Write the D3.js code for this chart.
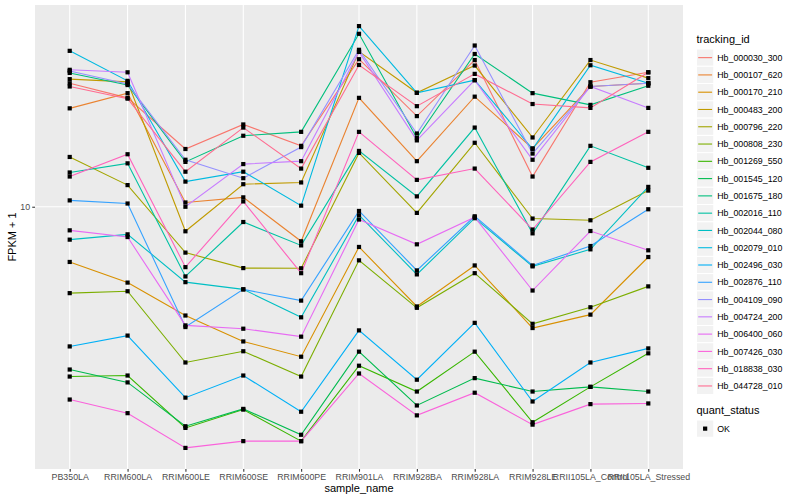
<!DOCTYPE html>
<html><head><meta charset="utf-8">
<script src="https://cdn.jsdelivr.net/npm/d3@7"></script>
<style>
body{margin:0;background:#fff}
text{font-family:"Liberation Sans",Arial,Helvetica,sans-serif}
</style>
</head><body>
<svg id="chart" width="800" height="500"></svg>
<script>
// ---- data ----
const samples = ["PB350LA","RRIM600LA","RRIM600LE","RRIM600SE","RRIM600PE","RRIM901LA","RRIM928BA","RRIM928LA","RRIM928LE","RRII105LA_Control","RRII105LA_Stressed"];
const trackingIds = ["Hb_000030_300","Hb_000107_620","Hb_000170_210","Hb_000483_200","Hb_000796_220","Hb_000808_230","Hb_001269_550","Hb_001545_120","Hb_001675_180","Hb_002016_110","Hb_002044_080","Hb_002079_010","Hb_002496_030","Hb_002876_110","Hb_004109_090","Hb_004724_200","Hb_006400_060","Hb_007426_030","Hb_018838_030","Hb_044728_010"];
const seriesColors = ["#F8766D","#EA8331","#D89000","#C09B00","#A3A500","#7CAE00","#39B600","#00BB4E","#00BF7D","#00C1A3","#00BFC4","#00BAE0","#00B0F6","#35A2FF","#9590FF","#C77CFF","#E76BF3","#FA62DB","#FF62BC","#FF6C91"];

// FPKM + 1 per sample, one array per tracking_id
const Hb_000030_300 = [31.1, 27.2, 17.0, 21.3, 17.5, 38.8, 23.0, 38.5, 13.2, 31.4, 34.4];
const Hb_000107_620 = [24.7, 28.4, 10.4, 10.9, 7.28, 27.2, 15.2, 27.5, 17.1, 30.2, 31.1];
const Hb_000170_210 = [6.02, 4.98, 3.68, 2.90, 2.52, 6.91, 4.00, 5.83, 3.28, 3.71, 6.30];
const Hb_000483_200 = [32.3, 31.5, 7.98, 12.3, 12.5, 41.6, 28.5, 36.6, 18.9, 38.5, 32.6];
const Hb_000796_220 = [15.8, 12.2, 6.56, 5.69, 5.68, 16.4, 9.45, 18.0, 8.97, 8.83, 11.6];
const Hb_000808_230 = [4.52, 4.60, 2.39, 2.65, 2.10, 6.11, 3.95, 5.43, 3.41, 3.97, 4.81];
const Hb_001269_550 = [2.10, 2.12, 1.31, 1.55, 1.16, 2.32, 1.83, 2.64, 1.38, 1.91, 2.60];
const Hb_001545_120 = [2.24, 1.99, 1.33, 1.56, 1.23, 2.64, 1.61, 2.07, 1.83, 1.91, 1.83];
const Hb_001675_180 = [34.2, 30.6, 15.1, 19.2, 19.9, 49.0, 18.8, 40.7, 28.4, 25.5, 30.4];
const Hb_002016_110 = [13.7, 14.9, 5.27, 8.69, 7.01, 16.7, 11.0, 20.7, 7.83, 17.5, 14.3];
const Hb_002044_080 = [7.39, 7.76, 5.00, 4.68, 3.62, 9.25, 5.37, 9.00, 5.78, 6.76, 12.0];
const Hb_002079_010 = [41.9, 31.8, 12.6, 13.8, 10.1, 52.6, 28.5, 32.0, 17.0, 36.7, 31.1];
const Hb_002496_030 = [2.77, 3.06, 1.73, 2.12, 1.52, 3.21, 2.04, 3.44, 1.67, 2.39, 2.72];
const Hb_002876_110 = [10.6, 10.3, 3.31, 4.68, 4.22, 9.62, 5.57, 9.16, 5.83, 6.97, 9.77];
const Hb_004109_090 = [34.8, 30.9, 15.4, 13.0, 17.3, 42.3, 19.6, 44.0, 16.3, 30.2, 31.1];
const Hb_004724_200 = [35.2, 34.4, 10.0, 14.8, 15.2, 41.5, 18.4, 32.0, 15.4, 30.2, 24.8];
const Hb_006400_060 = [8.05, 7.57, 3.36, 3.26, 3.03, 8.89, 7.08, 9.08, 4.63, 8.00, 6.70];
const Hb_007426_030 = [1.70, 1.50, 1.09, 1.16, 1.16, 2.16, 1.47, 1.81, 1.35, 1.63, 1.64];
const Hb_018838_030 = [13.2, 16.2, 5.74, 10.5, 5.43, 19.9, 12.8, 14.2, 8.11, 15.1, 19.9];
const Hb_044728_010 = [30.2, 27.0, 13.8, 20.7, 14.2, 36.8, 25.2, 33.9, 25.7, 24.8, 34.4];

const seriesValues = [Hb_000030_300, Hb_000107_620, Hb_000170_210, Hb_000483_200, Hb_000796_220, Hb_000808_230, Hb_001269_550, Hb_001545_120, Hb_001675_180, Hb_002016_110, Hb_002044_080, Hb_002079_010, Hb_002496_030, Hb_002876_110, Hb_004109_090, Hb_004724_200, Hb_006400_060, Hb_007426_030, Hb_018838_030, Hb_044728_010];
const yTicks = [10];
const quantStatus = ["OK"];

// ---- layout ----
const svg = d3.select("#chart");
const panel = {left: 35, right: 683, top: 5, bottom: 469};
const FONT_TICK = "8.8px", FONT_TITLE = "11px";

const x = d3.scalePoint().domain(samples).range([panel.left, panel.right]).padding(0.6);
const allVals = seriesValues.flat();
const lmin = Math.log10(d3.min(allVals)), lmax = Math.log10(d3.max(allVals));
const ex = (lmax - lmin) * 0.05;
const y = d3.scaleLog().domain([Math.pow(10, lmin - ex), Math.pow(10, lmax + ex)]).range([panel.bottom, panel.top]);

// panel background
svg.append("rect").attr("x", panel.left).attr("y", panel.top)
  .attr("width", panel.right - panel.left).attr("height", panel.bottom - panel.top)
  .attr("fill", "#EBEBEB");

// grid
const grid = svg.append("g");
grid.selectAll(".vg").data(samples).enter().append("line")
  .attr("x1", d => x(d)).attr("x2", d => x(d))
  .attr("y1", panel.top).attr("y2", panel.bottom)
  .attr("stroke", "#fff").attr("stroke-width", 1.07);
grid.selectAll(".hg").data(yTicks).enter().append("line")
  .attr("x1", panel.left).attr("x2", panel.right)
  .attr("y1", d => y(d)).attr("y2", d => y(d))
  .attr("stroke", "#fff").attr("stroke-width", 1.07);

// lines
const line = d3.line().x((d, i) => x(samples[i])).y(d => y(d));
svg.append("g").selectAll("path").data(seriesValues).enter().append("path")
  .attr("d", d => line(d)).attr("fill", "none")
  .attr("stroke", (d, i) => seriesColors[i]).attr("stroke-width", 1.1);

// points
const pts = [];
seriesValues.forEach(s => s.forEach((v, i) => pts.push({s: samples[i], v})));
svg.append("g").selectAll("rect").data(pts).enter().append("rect")
  .attr("x", d => x(d.s) - 2.1).attr("y", d => y(d.v) - 2.1)
  .attr("width", 4.2).attr("height", 4.2).attr("fill", "#000");

// axes
const xAxis = svg.append("g").attr("transform", `translate(0,${panel.bottom})`)
  .call(d3.axisBottom(x).tickSize(2.75).tickPadding(2.2));
const yAxis = svg.append("g").attr("transform", `translate(${panel.left},0)`)
  .call(d3.axisLeft(y).tickValues(yTicks).tickFormat(d3.format("d")).tickSize(2.75).tickPadding(2.2));
[xAxis, yAxis].forEach(a => {
  a.select(".domain").remove();
  a.selectAll(".tick line").attr("stroke", "#333333").attr("stroke-width", 1.07);
  a.selectAll(".tick text").attr("fill", "#4D4D4D").style("font-size", FONT_TICK)
    .style("font-family", '"Liberation Sans",Arial,sans-serif');
});

// axis titles
svg.append("text").attr("x", (panel.left + panel.right) / 2).attr("y", 492)
  .attr("text-anchor", "middle").style("font-size", FONT_TITLE).attr("fill", "#000").text("sample_name");
svg.append("text").attr("transform", `translate(16,${(panel.top + panel.bottom) / 2}) rotate(-90)`)
  .attr("text-anchor", "middle").style("font-size", FONT_TITLE).attr("fill", "#000").text("FPKM + 1");

// legend: tracking_id
const lg = svg.append("g");
const keyX = 696.5, keyS = 17.28, legTop = 49;
lg.append("text").attr("x", keyX).attr("y", 43).style("font-size", FONT_TITLE).text("tracking_id");
trackingIds.forEach((id, i) => {
  const ky = legTop + i * keyS;
  lg.append("rect").attr("x", keyX).attr("y", ky).attr("width", keyS).attr("height", keyS)
    .attr("fill", "#F2F2F2").attr("stroke", "#fff").attr("stroke-width", 1);
  lg.append("line").attr("x1", keyX + 1.7).attr("x2", keyX + keyS - 1.7)
    .attr("y1", ky + keyS / 2).attr("y2", ky + keyS / 2)
    .attr("stroke", seriesColors[i]).attr("stroke-width", 1.1);
  lg.append("text").attr("x", keyX + keyS + 3.5).attr("y", ky + keyS / 2 + 3.1)
    .style("font-size", FONT_TICK).attr("fill", "#000").text(id);
});

// legend: quant_status
const qTop = 420;
lg.append("text").attr("x", keyX).attr("y", qTop - 6).style("font-size", FONT_TITLE).text("quant_status");
quantStatus.forEach((q, i) => {
  const ky = qTop + i * keyS;
  lg.append("rect").attr("x", keyX).attr("y", ky).attr("width", keyS).attr("height", keyS)
    .attr("fill", "#F2F2F2").attr("stroke", "#fff").attr("stroke-width", 1);
  lg.append("rect").attr("x", keyX + keyS / 2 - 2.1).attr("y", ky + keyS / 2 - 2.1)
    .attr("width", 4.2).attr("height", 4.2).attr("fill", "#000");
  lg.append("text").attr("x", keyX + keyS + 3.5).attr("y", ky + keyS / 2 + 3.1)
    .style("font-size", FONT_TICK).attr("fill", "#000").text(q);
});
</script>
</body></html>
